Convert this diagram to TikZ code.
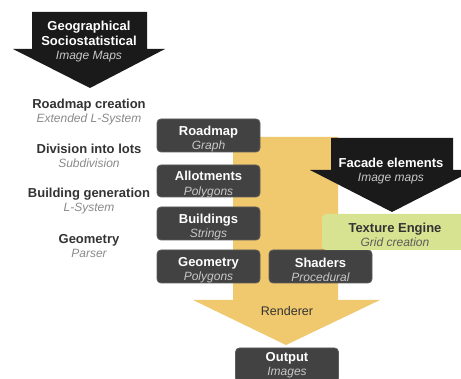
\documentclass[tikz,border=0pt]{standalone}
\usepackage{fontspec}
\setmainfont{Liberation Sans}
\definecolor{boxfill}{HTML}{424242}
\definecolor{boxedge}{HTML}{5C5C5C}
\definecolor{arrowblack}{HTML}{1A1A1A}
\definecolor{flowyellow}{HTML}{F0C86E}
\definecolor{texgreen}{HTML}{D7E390}
\definecolor{subgray}{HTML}{C8C8C8}
\definecolor{leftbold}{HTML}{333333}
\definecolor{leftital}{HTML}{8A8A8A}
\newcommand{\subtxt}[2]{{\fontsize{12}{14}\selectfont\itshape\color{#1}#2}}
\begin{document}
\begin{tikzpicture}[x=1pt,y=-1pt,
  darkbox/.style={draw=boxedge,line width=0.8pt,fill=boxfill,rounded corners=4pt,
    minimum width=103pt,minimum height=33pt,inner sep=0pt},
  boxtext/.style={align=center,inner sep=0pt,text=white,font=\fontsize{13}{14.5}\selectfont},
  lefttxt/.style={align=center,inner sep=0pt,text=leftbold,font=\fontsize{13}{14.5}\selectfont},
  arrtxt/.style={align=center,inner sep=0pt,text=white,font=\fontsize{13}{15}\selectfont}]
\clip (0,0) rectangle (461,379);
\fill[white] (0,0) rectangle (461,379);
% yellow renderer arrow
\fill[flowyellow] (233,137) -- (338,137) -- (338,300) -- (380,300) -- (286,345)
  -- (193,300) -- (233,300) -- cycle;
\node[inner sep=0pt,font=\fontsize{12.5}{14}\selectfont,text=leftbold] (renderer) at (287,311) {Renderer};
% top black arrow
\fill[arrowblack] (32,12) -- (147,12) -- (147,49) -- (165,49) -- (90,88) -- (13,49) -- (32,49) -- cycle;
\node[arrtxt] (geo) at (89,42) {\bfseries Geographical\\\bfseries Sociostatistical\\[-1pt]\subtxt{subgray}{Image Maps}};
% left labels
\node[lefttxt] (l1) at (89,112) {\bfseries Roadmap creation\\\subtxt{leftital}{Extended L-System}};
\node[lefttxt] (l2) at (89,156) {\bfseries Division into lots\\\subtxt{leftital}{Subdivision}};
\node[lefttxt] (l3) at (89,201) {\bfseries Building generation\\\subtxt{leftital}{L-System}};
\node[lefttxt] (l4) at (89,246) {\bfseries Geometry\\\subtxt{leftital}{Parser}};
% dark boxes
\node[darkbox] (roadmap) at (208.5,135.5) {};
\node[boxtext] (roadmaptxt) at ([yshift=-3.5pt]roadmap.center) {\bfseries Roadmap\\\subtxt{subgray}{Graph}};
\node[darkbox,minimum height=32pt] (allot) at (208.5,181) {};
\node[boxtext] (allottxt) at ([yshift=-3.5pt]allot.center) {\bfseries Allotments\\\subtxt{subgray}{Polygons}};
\node[darkbox] (build) at (208.5,223.5) {};
\node[boxtext] (buildtxt) at ([yshift=-3.5pt]build.center) {\bfseries Buildings\\\subtxt{subgray}{Strings}};
\node[darkbox] (geom) at (208.5,266.5) {};
\node[boxtext] (geomtxt) at ([yshift=-3.5pt]geom.center) {\bfseries Geometry\\\subtxt{subgray}{Polygons}};
\node[darkbox] (shaders) at (320.5,266.5) {};
\node[boxtext] (shaderstxt) at ([yshift=-3.5pt]shaders.center) {\bfseries Shaders\\\subtxt{subgray}{Procedural}};
% facade arrow
\fill[arrowblack] (331,138) -- (453,138) -- (453,170) -- (474,170) -- (392,212) -- (310,170) -- (331,170) -- cycle;
\node[arrtxt] (facade) at (391,171) {\bfseries Facade elements\\[-1pt]\subtxt{subgray}{Image maps}};
% texture engine
\fill[texgreen,rounded corners=4pt] (322,214) rectangle (475,250);
\node[align=center,inner sep=0pt,text=leftbold,font=\fontsize{13}{14.5}\selectfont] (texture) at (395,235) {\bfseries Texture Engine\\\subtxt{leftbold!80}{Grid creation}};
% output
\node[darkbox,minimum height=34pt] (output) at (287,365) {};
\node[boxtext,font=\fontsize{13}{14}\selectfont] (outputtxt) at (287,365.5) {\bfseries Output\\\subtxt{subgray}{Images}};
\end{tikzpicture}
\end{document}
